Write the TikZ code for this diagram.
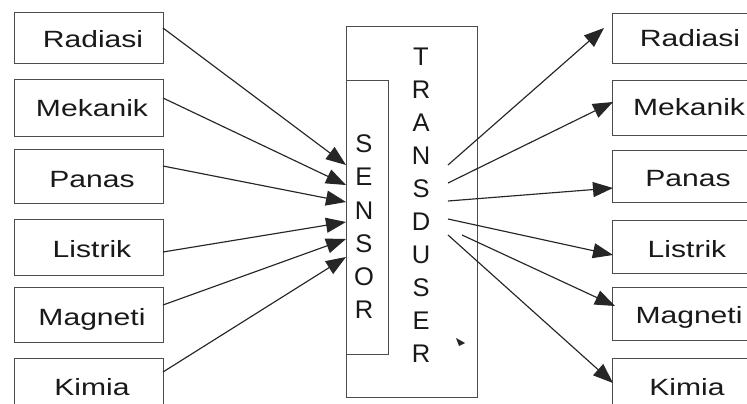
\documentclass[tikz,border=0pt]{standalone}
\usepackage{fontspec}
\setmainfont{Liberation Sans}
\newfontfamily\labelfont[FakeStretch=1.28]{Liberation Sans}
\usetikzlibrary{arrows.meta}
\begin{document}
\begin{tikzpicture}[x=1pt,y=-1pt,
  box/.style={draw=black!70, line width=0.9pt, inner sep=0pt, anchor=north west},
  lbl/.style={font=\labelfont\fontsize{23.5}{23.5}\selectfont, inner sep=0pt, anchor=base, text=black!90},
  letter/.style={font=\fontsize{25.5}{25.5}\selectfont, inner sep=0pt, anchor=center, text=black!90},
  conn/.style={draw=black!85, line width=1.15pt},
  arr/.style={conn, -{Triangle[length=20pt,width=15pt]}}]
\useasboundingbox (0,0) rectangle (747,404);
\clip (0,0) rectangle (747,404);
\fill[white] (0,0) rectangle (747,404);

% left boxes
\node[box, minimum width=149pt, minimum height=51pt] (L1) at (14,12) {};
\node[box, minimum width=149pt, minimum height=57pt] (L2) at (14,79) {};
\node[box, minimum width=149pt, minimum height=54pt] (L3) at (14,149) {};
\node[box, minimum width=149pt, minimum height=56pt] (L4) at (14,219) {};
\node[box, minimum width=149pt, minimum height=55pt] (L5) at (14,287) {};
\node[box, minimum width=149pt, minimum height=60pt] (L6) at (14,358) {};
\node[lbl] (tl1) at (93,48) {Radiasi};
\node[lbl] (tl2) at (92,117) {Mekanik};
\node[lbl] (tl3) at (92,187) {Panas};
\node[lbl] (tl4) at (92,257) {Listrik};
\node[lbl] (tl5) at (92,325) {Magneti};
\node[lbl] (tl6) at (92,395) {Kimia};

% right boxes
\node[box, minimum width=158pt, minimum height=50pt] (R1) at (612,13) {};
\node[box, minimum width=158pt, minimum height=55pt] (R2) at (612,80) {};
\node[box, minimum width=158pt, minimum height=52pt] (R3) at (612,150) {};
\node[box, minimum width=158pt, minimum height=53pt] (R4) at (612,220) {};
\node[box, minimum width=158pt, minimum height=53pt] (R5) at (612,287) {};
\node[box, minimum width=158pt, minimum height=60pt] (R6) at (612,358) {};
\node[lbl] (tr1) at (690,47) {Radiasi};
\node[lbl] (tr2) at (689,115) {Mekanik};
\node[lbl] (tr3) at (688,186) {Panas};
\node[lbl] (tr4) at (687,257) {Listrik};
\node[lbl] (tr5) at (689,323) {Magneti};
\node[lbl] (tr6) at (687,395) {Kimia};

% transducer and sensor
\node[box, minimum width=131pt, minimum height=371pt] (T) at (346,26) {};
\node[box, minimum width=42pt, minimum height=274pt] (S) at (346,80) {};
\foreach \c [count=\i from 0] in {S,E,N,S,O,R}
  \node[letter] (s\i) at (364,{144+33.2*\i}) {\c};
\foreach \c [count=\i from 0] in {T,R,A,N,S,D,U,S,E,R}
  \node[letter] (t\i) at (421,{57+33.0*\i}) {\c};

% left connector points
\coordinate (a1) at (163,28);
\coordinate (a2) at (163,98);
\coordinate (a3) at (163,166);
\coordinate (a4) at (163,252);
\coordinate (a5) at (163,305);
\coordinate (a6) at (163,372);
\coordinate (b1) at (346,165);
\coordinate (b2) at (346,185);
\coordinate (b3) at (346,202);
\coordinate (b4) at (346,222);
\coordinate (b5) at (346,239);
\coordinate (b6) at (346,257);
\foreach \i in {1,...,6} \draw[arr] (a\i) -- (b\i);

% right connector points
\coordinate (c1) at (448,165);
\coordinate (c2) at (448,183);
\coordinate (c3) at (448,201);
\coordinate (c4) at (448,219);
\coordinate (c5) at (462,235);
\coordinate (c6) at (448,235);
\coordinate (d1) at (604,28);
\coordinate (d2) at (613,102);
\coordinate (d3) at (613,188);
\coordinate (d4) at (613,255);
\coordinate (d5) at (615,306);
\coordinate (d6) at (613,383);
\foreach \i in {1,...,6} \draw[arr] (c\i) -- (d\i);

% small stray mark
\fill[black!85] (456,338) -- (465,343) -- (459,346) -- cycle;
\end{tikzpicture}
\end{document}
